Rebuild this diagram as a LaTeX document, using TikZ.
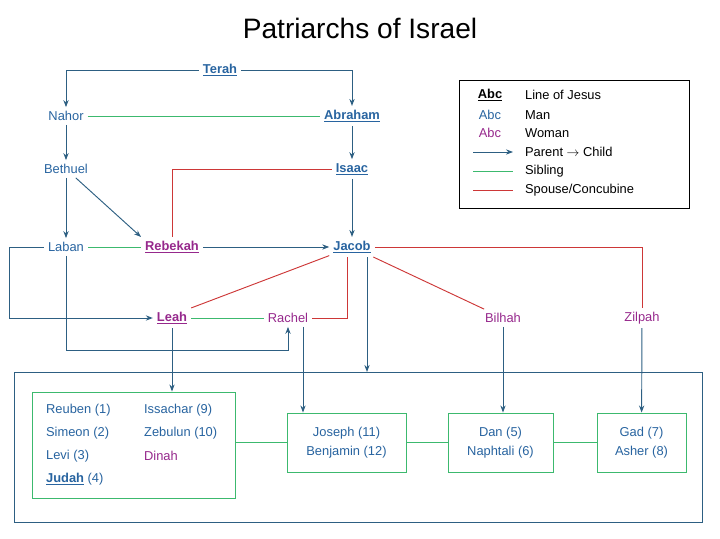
\documentclass[tikz,border=0pt]{standalone}
\usepackage{fontspec}
\setmainfont{Liberation Sans}
\usetikzlibrary{positioning, arrows.meta}
\definecolor{man}{RGB}{40,100,160}
\definecolor{woman}{RGB}{150,40,140}
\definecolor{sib}{RGB}{60,185,110}
\definecolor{spouse}{RGB}{205,55,55}
\definecolor{arr}{RGB}{45,95,130}
\tikzstyle{man}=[text=man, font=\fontsize{11}{13}\selectfont]
\tikzstyle{woman}=[text=woman, font=\fontsize{11}{13}\selectfont]
\tikzstyle{jesus}=[font=\fontsize{11}{13}\selectfont\bfseries]
\tikzstyle{child}=[draw=arr, thick, -{Stealth[length=6pt]}]
\tikzstyle{sibling}=[draw=sib, thick]
\tikzstyle{spouse}=[draw=spouse, thick]
\tikzstyle{family}=[draw=sib, thick, fill=white]

\begin{document}
\begin{tikzpicture}[x=0.03cm, y=-0.03cm]
            \useasboundingbox (0,0) rectangle (720,539);
            \node[font=\fontsize{24}{28}\selectfont] (title) at (360,28) {Patriarchs of Israel};
            %people
            \node[man, jesus] (terah) at (220,70) {\underline{Terah}};
            \node[man] (nahor) at (66,116) {Nahor};
            \node[man, jesus] (abraham) at (352,116) {\underline{Abraham}};
            \node[man] (bethuel) at (66,169) {Bethuel};
            \node[man, jesus] (isaac) at (352,169) {\underline{Isaac}};
            \node[man] (laban) at (66,247) {Laban};
            \node[woman, jesus] (rebekah) at (172,247) {\underline{Rebekah}};
            \node[man, jesus] (jacob) at (352,247) {\underline{Jacob}};
            \node[woman, jesus] (leah) at (172,318) {\underline{Leah}};
            \node[woman] (rachel) at (288,318) {Rachel};
            \node[woman] (bilhah) at (503,318) {Bilhah};
            \node[woman] (zilpah) at (642,318) {Zilpah};
            %legend
            \draw[thick] (459,80) rectangle (689,208);
            \node[jesus] (lgj) at (490,95) {\underline{Abc}};
            \node[man] (lgm) at (490,115) {Abc};
            \node[woman] (lgw) at (490,133) {Abc};
            \coordinate (la1) at (473,152);
            \coordinate (la2) at (513,152);
            \coordinate (ls1) at (473,171);
            \coordinate (ls2) at (513,171);
            \coordinate (lr1) at (473,190);
            \coordinate (lr2) at (513,190);
            \draw[child] (la1) -- (la2);
            \draw[sibling] (ls1) -- (ls2);
            \draw[spouse] (lr1) -- (lr2);
            \foreach \y/\t [count=\i] in {95/Line of Jesus,115/Man,133/Woman,152/Parent $\rightarrow$ Child,171/Sibling,190/{Spouse/Concubine}}{
                \node[anchor=west, font=\fontsize{11}{13}\selectfont] (lt\i) at (521,\y) {\t};
            }
            %children
            \draw[arr, thick] (14,372) rectangle (702,522);
            \node[family, minimum width=203*0.03cm, minimum height=106*0.03cm] (b1) at (133.5,445) {};
            \node[family, minimum width=119*0.03cm, minimum height=59*0.03cm, align=center, man] (b2) at (346.5,442.5) {Joseph (11)\\[3pt]Benjamin (12)};
            \node[family, minimum width=105*0.03cm, minimum height=59*0.03cm, align=center, man] (b3) at (500.5,442.5) {Dan (5)\\[3pt]Naphtali (6)};
            \node[family, minimum width=89*0.03cm, minimum height=59*0.03cm, align=center, man] (b4) at (641.5,442.5) {Gad (7)\\[3pt]Asher (8)};
            \node[man, anchor=west] (reuben) at (42,410) {Reuben (1)};
            \node[man, anchor=west] (simeon) at (42,433) {Simeon (2)};
            \node[man, anchor=west] (levi) at (42,456) {Levi (3)};
            \node[man, anchor=west] (judah) at (42,479) {\textbf{\underline{Judah}} (4)};
            \node[man, anchor=west] (issachar) at (140,410) {Issachar (9)};
            \node[man, anchor=west] (zebulun) at (140,433) {Zebulun (10)};
            \node[woman, anchor=west] (dinah) at (140,456) {Dinah};
            \draw[sibling] (b1.east |- b2) -- (b2);
            \draw[sibling] (b2) -- (b3);
            \draw[sibling] (b3) -- (b4);
            %connectors
            \draw[child] (terah) -| (nahor);
            \draw[child] (terah) -| (abraham);
            \draw[sibling] (nahor) -- (abraham);
            \draw[child] (nahor) -- (bethuel);
            \draw[child] (abraham) -- (isaac);
            \draw[child] (bethuel) -- (laban);
            \draw[child] (bethuel) -- (rebekah.north west);
            \draw[spouse] (isaac) -| (rebekah);
            \draw[sibling] (laban) -- (rebekah);
            \draw[child] (rebekah) -- (jacob);
            \draw[child] (isaac) -- (jacob);
            \draw[child] (laban.west) -- ++(-34,0) |- (leah);
            \draw[child] (laban) |- (288,350) -- (rachel);
            \draw[sibling] (leah) -- (rachel);
            \draw[spouse] (jacob) -- (leah.north east);
            \draw[spouse] (jacob.south -| 347,0) |- (rachel);
            \draw[spouse] (jacob) -- (bilhah);
            \draw[spouse] (jacob) -| (zilpah);
            \draw[child] (jacob.south -| 367,0) -- (367,372);
            \draw[child] (leah) -- (leah |- b1.north);
            \draw[child] (rachel.south -| 303,0) -- (b2.north -| 303,0);
            \draw[child] (bilhah) -- (b3.north -| bilhah);
            \draw[child] (zilpah) -- (b4);
\end{tikzpicture}
\end{document}
